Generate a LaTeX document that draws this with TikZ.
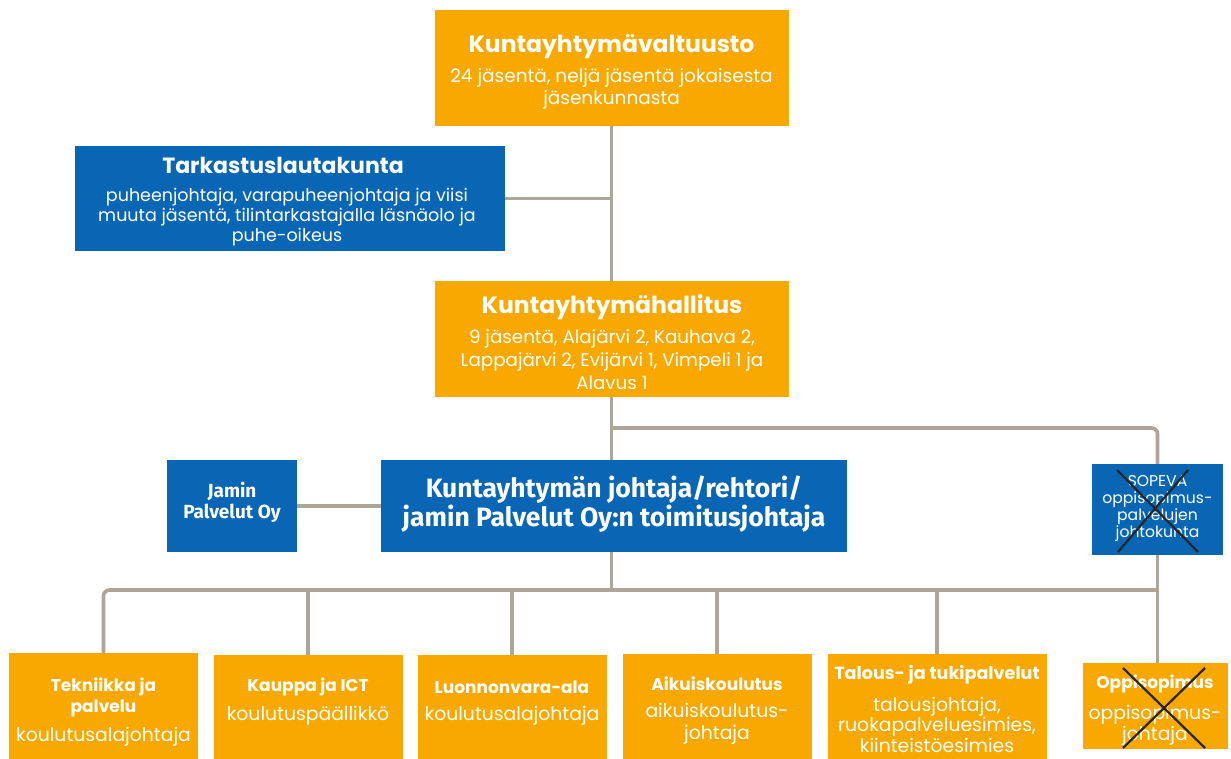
\documentclass[tikz,border=0pt]{standalone}
\usepackage{fontspec}
\setmainfont{Poppins}
\newfontfamily\fira{Fira Sans}
\definecolor{org}{RGB}{249,168,0}
\definecolor{blu}{RGB}{8,102,181}
\definecolor{con}{RGB}{173,165,152}
\tikzset{
  obox/.style={fill=org, draw=none, inner sep=0pt},
  bbox/.style={fill=blu, draw=none, inner sep=0pt},
  conn/.style={draw=con, line width=3.6pt},
  ttl/.style={text=white, font=\fontsize{17}{21}\selectfont\bfseries, align=center, inner sep=0pt},
  sub/.style={text=white, font=\fontsize{18.8}{21.5}\selectfont, align=center, inner sep=0pt},
  xmark/.style={draw=black!85, line width=2.2pt},
}
\begin{document}
\begin{tikzpicture}[x=1pt,y=-1pt]
\useasboundingbox[fill=white] (0,0) rectangle (1231,758);
% boxes
\node[obox, minimum width=354pt, minimum height=116pt] (valt) at (611.5,68) {};
\node[bbox, minimum width=430pt, minimum height=105pt] (tark) at (290,198.5) {};
\node[obox, minimum width=354pt, minimum height=116pt] (hall) at (611.5,339) {};
\node[bbox, minimum width=130pt, minimum height=92pt] (jam) at (232,506) {};
\node[bbox, minimum width=466pt, minimum height=92pt] (joht) at (614,506) {};
\node[bbox, minimum width=131pt, minimum height=91pt] (sop) at (1157.5,509.5) {};
\node[obox, minimum width=189pt, minimum height=115pt, anchor=north] (b1) at (103.5,653) {};
\node[obox, minimum width=189pt, minimum height=115pt, anchor=north] (b2) at (308,655) {};
\node[obox, minimum width=189pt, minimum height=115pt, anchor=north] (b3) at (512,655) {};
\node[obox, minimum width=189pt, minimum height=115pt, anchor=north] (b4) at (717,654) {};
\node[obox, minimum width=219pt, minimum height=115pt, anchor=north] (b5) at (937,654) {};
\node[obox, minimum width=145pt, minimum height=86pt, anchor=north] (b6) at (1155,663) {};
% junctions
\coordinate (j1) at (611.5,428);
\coordinate (j2) at (611.5,590);
\coordinate (j3) at (1157.5,590);
% connectors
\draw[conn] (valt.south) -- (hall.north);
\draw[conn] (tark.east) -- (tark.east -| valt.south);
\draw[conn] (hall.south) -- (j2 |- joht.north);
\draw[conn, rounded corners=6pt] (j1) -| (sop.north);
\draw[conn] (jam.east) -- (joht.west);
\draw[conn] (j2 |- joht.south) -- (j2);
\draw[conn, rounded corners=6pt] (b1.north) |- (j3);
\draw[conn] (sop.south) -- (sop.south |- b6.north);
\draw[conn] (b2.north) -- (b2.north |- j2);
\draw[conn] (b3.north) -- (b3.north |- j2);
\draw[conn] (b4.north) -- (b4.north |- j2);
\draw[conn] (b5.north) -- (b5.north |- j2);
% texts
\node[ttl, font=\fontsize{23.5}{26}\selectfont\bfseries] (t1) at (611.5,47) {Kuntayhtymävaltuusto};
\node[sub, font=\fontsize{18.5}{22}\selectfont] (s1) at (611.5,89) {24 jäsentä, neljä jäsentä jokaisesta\\jäsenkunnasta};
\node[ttl, font=\fontsize{22}{24}\selectfont\bfseries] (t2) at (283,165) {Tarkastuslautakunta};
\node[sub, font=\fontsize{17.5}{20}\selectfont] (s2) at (287,217) {puheenjohtaja, varapuheenjohtaja ja viisi\\muuta jäsentä, tilintarkastajalla läsnäolo ja\\puhe-oikeus};
\node[ttl, font=\fontsize{23.5}{26}\selectfont\bfseries] (t3) at (612,307) {Kuntayhtymähallitus};
\node[sub, font=\fontsize{18.3}{23}\selectfont] (s3) at (612,360) {9 jäsentä, Alajärvi 2, Kauhava 2,\\Lappajärvi 2, Evijärvi 1, Vimpeli 1 ja\\Alavus 1};
\node[ttl, font=\fira\fontsize{19}{21.5}\selectfont\bfseries] (t4) at (232,502.5) {Jamin\\Palvelut Oy};
\node[ttl, font=\fira\fontsize{26.5}{29}\selectfont\bfseries] (t5) at (614,504.5) {Kuntayhtymän johtaja/rehtori/\\jamin Palvelut Oy:n toimitusjohtaja};
\node[sub, font=\fontsize{15.6}{17.3}\selectfont] (t6) at (1157.5,508.5) {SOPEVA\\oppisopimus-\\palvelujen\\johtokunta};
\draw[xmark] (1117,470) -- (1198,552);
\draw[xmark] (1188,470) -- (1118,552);
\node[ttl] (t7) at (103.5,697.5) {Tekniikka ja\\palvelu};
\node[sub] (s7) at (103.5,737) {koulutusalajohtaja};
\node[ttl] (t8) at (308,687) {Kauppa ja ICT};
\node[sub] (s8) at (308,716) {koulutuspäällikkö};
\node[ttl] (t9) at (512,687) {Luonnonvara-ala};
\node[sub] (s9) at (512,716) {koulutusalajohtaja};
\node[ttl] (t10) at (717,684) {Aikuiskoulutus};
\node[sub] (s10) at (717,724) {aikuiskoulutus-\\johtaja};
\node[ttl, font=\fontsize{17.6}{21}\selectfont\bfseries] (t11) at (937,675) {Talous- ja tukipalvelut};
\node[sub, font=\fontsize{18.8}{20.5}\selectfont] (s11) at (937,724.5) {talousjohtaja,\\ruokapalveluesimies,\\kiinteistöesimies};
\node[ttl] (t12) at (1155,684) {Oppisopimus};
\node[sub] (s12) at (1155,725.5) {oppisopimus-\\johtaja};
\draw[xmark] (1123,668) -- (1205,748);
\draw[xmark] (1205,668) -- (1123,748);
\end{tikzpicture}
\end{document}
